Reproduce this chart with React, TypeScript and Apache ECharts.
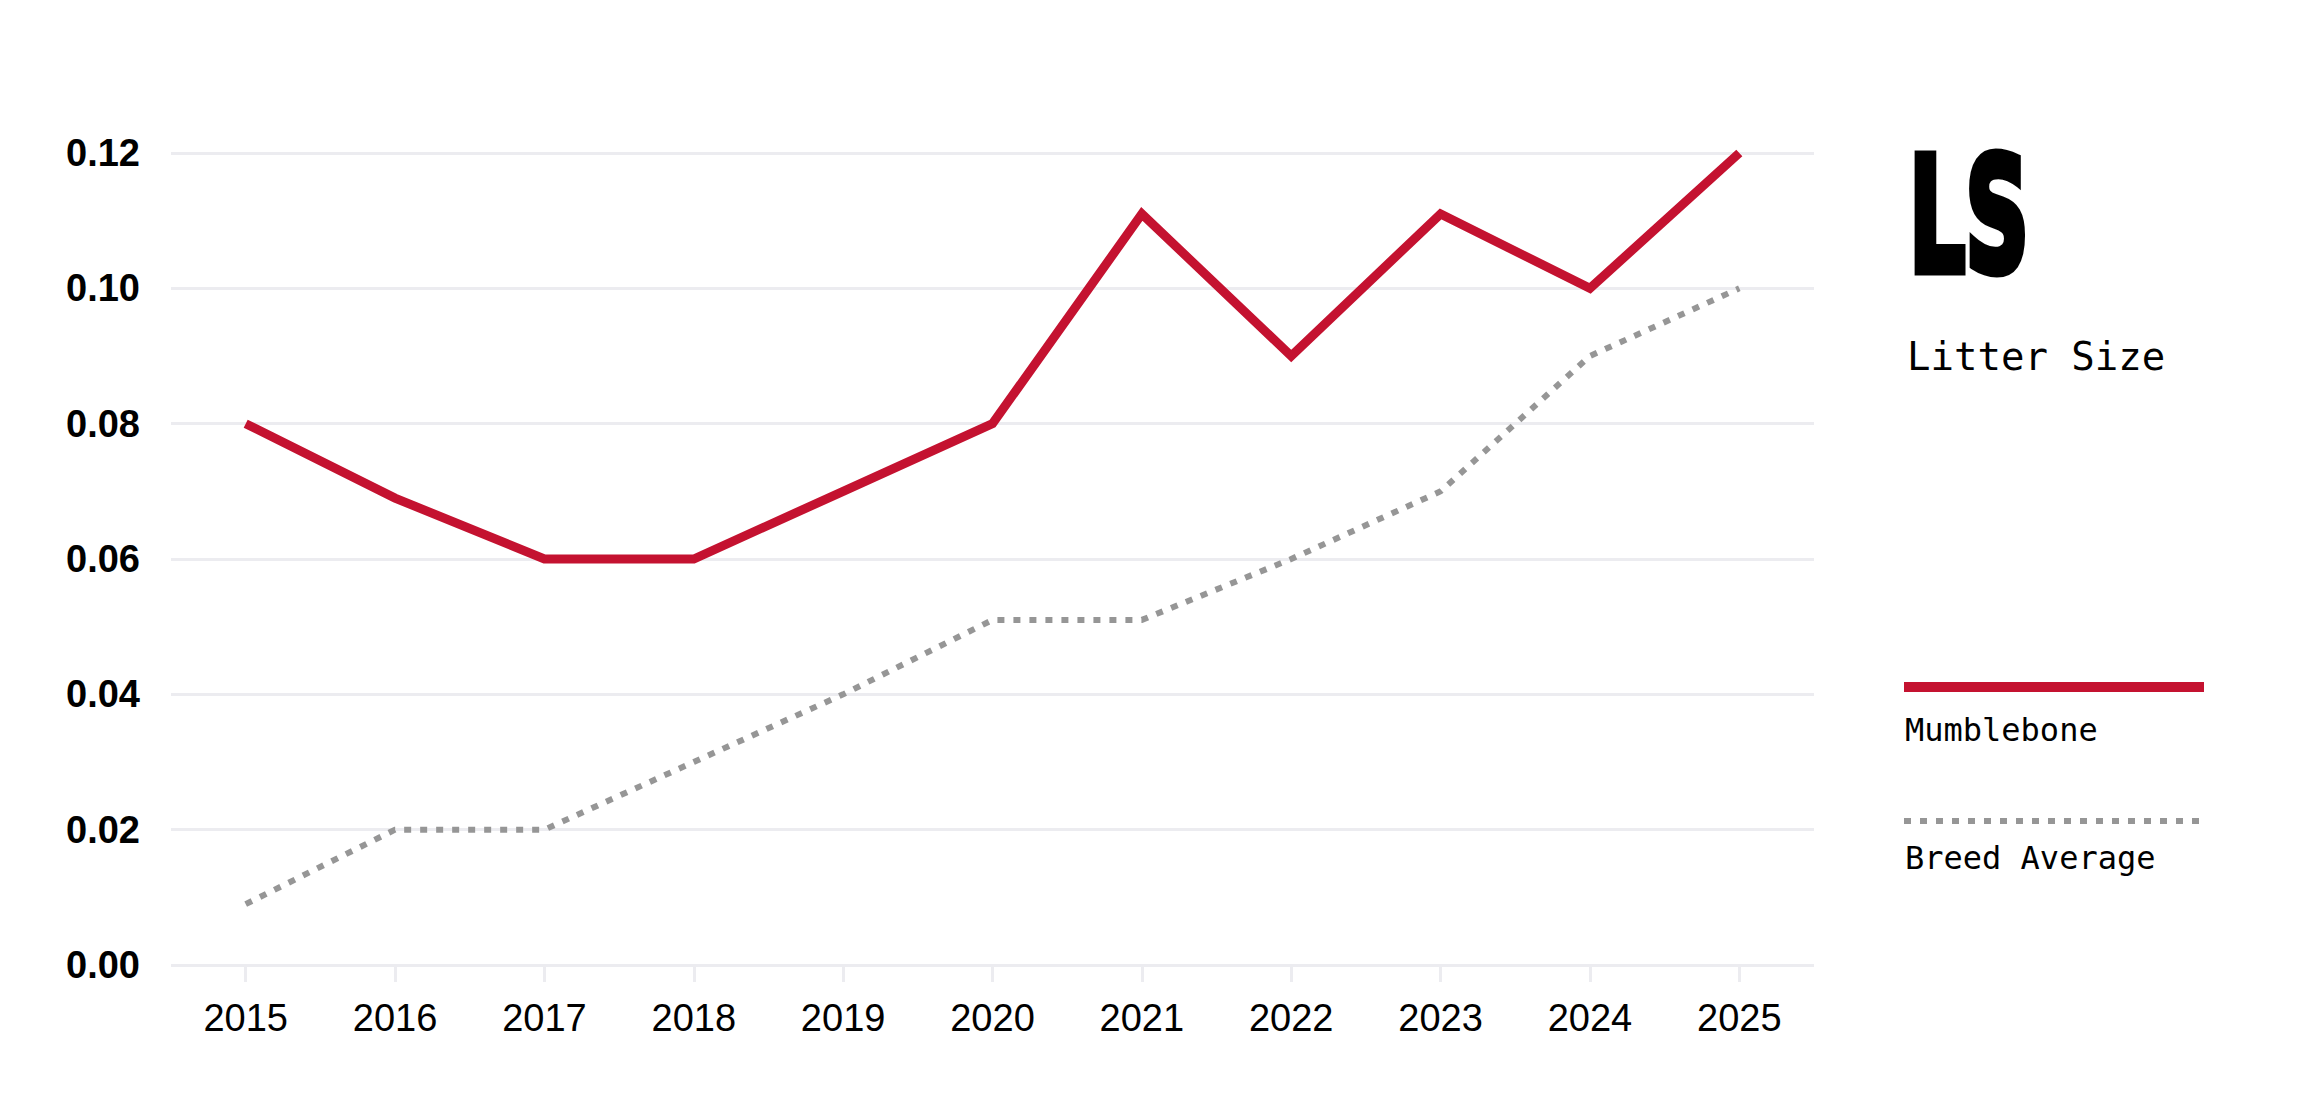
import React, { useEffect, useRef } from "react";
import * as echarts from "echarts";

const years = ["2015", "2016", "2017", "2018", "2019", "2020", "2021", "2022", "2023", "2024", "2025"];
const mumblebone = [0.08, 0.069, 0.06, 0.06, 0.07, 0.08, 0.111, 0.09, 0.111, 0.1, 0.12];
const breedAverage = [0.009, 0.02, 0.02, 0.03, 0.04, 0.051, 0.051, 0.06, 0.07, 0.09, 0.1];
const seriesNames = ["Mumblebone", "Breed Average"];
const yMin = 0;
const yMax = 0.12;
const yStep = 0.02;
const titleAbbrev = "LS";
const titleText = "Litter Size";

const RED = "#C41230";
const GREY = "#969696";
const GRID = "#ECECF0";
const MONO = '"DejaVu Sans Mono", "Liberation Mono", monospace';
const SANS = '"Liberation Sans", Arial, Helvetica, sans-serif';

export default function App() {
  const ref = useRef<HTMLDivElement>(null);
  useEffect(() => {
    if (!ref.current) return;
    const chart = echarts.init(ref.current, undefined, { renderer: "svg" });
    chart.setOption({
      animation: false,
      backgroundColor: "#ffffff",
      grid: { left: 171, right: 506, top: 153, bottom: 155, containLabel: false },
      xAxis: {
        type: "category",
        data: years,
        boundaryGap: true,
        axisLine: { show: false },
        axisTick: { show: true, alignWithLabel: true, length: 17, lineStyle: { color: GRID, width: 3 } },
        axisLabel: { color: "#000", fontSize: 38, fontFamily: SANS, margin: 34 },
        splitLine: { show: false },
      },
      yAxis: {
        type: "value",
        min: yMin,
        max: yMax,
        interval: yStep,
        axisLine: { show: false },
        axisTick: { show: false },
        axisLabel: {
          color: "#000",
          fontSize: 38,
          fontWeight: "bold",
          fontFamily: SANS,
          margin: 31,
          formatter: (v: number) => v.toFixed(2),
        },
        splitLine: { show: true, lineStyle: { color: GRID, width: 3 } },
      },
      series: [
        {
          name: seriesNames[1],
          type: "line",
          data: breedAverage,
          symbol: "none",
          lineStyle: { color: GREY, width: 6, type: [7, 9], cap: "butt", join: "miter" },
          z: 2,
        },
        {
          name: seriesNames[0],
          type: "line",
          data: mumblebone,
          symbol: "none",
          lineStyle: { color: RED, width: 9, cap: "butt", join: "miter" },
          z: 3,
        },
      ],
      graphic: [
        {
          type: "text",
          x: 1909,
          y: 216,
          scaleX: 0.56,
          style: {
            text: titleAbbrev,
            fontSize: 158,
            fontWeight: "bold",
            fontFamily: '"DejaVu Sans", sans-serif',
            fill: "#000",
            stroke: "#000",
            lineWidth: 9,
            lineJoin: "miter",
            align: "left",
            verticalAlign: "middle",
          },
        },
        {
          type: "text",
          x: 1907,
          y: 356,
          style: {
            text: titleText,
            fontSize: 39,
            fontFamily: MONO,
            fill: "#000",
            align: "left",
            verticalAlign: "middle",
          },
        },
        {
          type: "rect",
          shape: { x: 1904, y: 682, width: 300, height: 10 },
          style: { fill: RED },
        },
        {
          type: "text",
          x: 1905,
          y: 730,
          style: {
            text: seriesNames[0],
            fontSize: 32,
            fontFamily: MONO,
            fill: "#000",
            align: "left",
            verticalAlign: "middle",
          },
        },
        {
          type: "line",
          shape: { x1: 1904, y1: 821, x2: 2204, y2: 821 },
          style: { stroke: GREY, lineWidth: 6, lineDash: [7, 9] },
        },
        {
          type: "text",
          x: 1905,
          y: 858,
          style: {
            text: seriesNames[1],
            fontSize: 32,
            fontFamily: MONO,
            fill: "#000",
            align: "left",
            verticalAlign: "middle",
          },
        },
      ],
    });
    return () => chart.dispose();
  }, []);
  return (
    <div
      ref={ref}
      style={{ position: "absolute", left: 0, top: 0, width: 2320, height: 1120, background: "#fff" }}
    />
  );
}
